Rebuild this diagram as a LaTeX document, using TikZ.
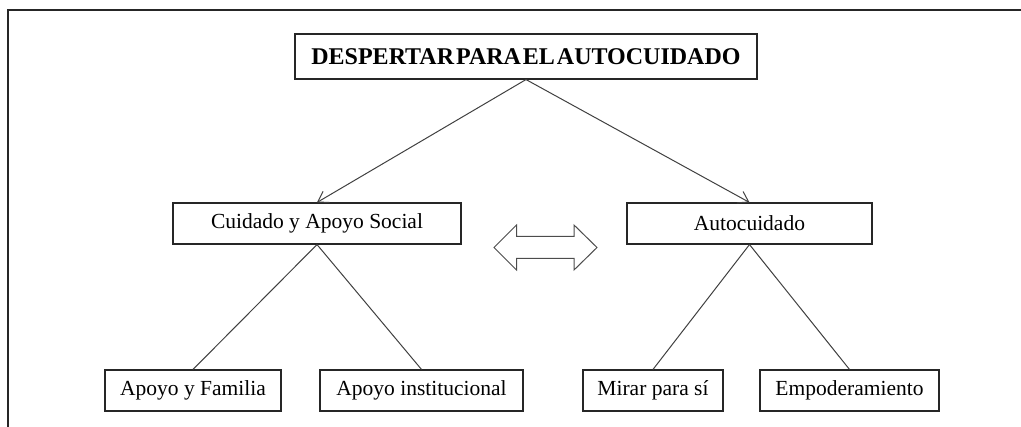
\documentclass[tikz,border=0pt]{standalone}
\usepackage{fontspec}
\setmainfont{Liberation Serif}
\usetikzlibrary{arrows.meta}
\begin{document}
\begin{tikzpicture}[x=1pt,y=-1pt,
  box/.style={draw=black!85, line width=1.1pt, inner sep=0pt, minimum height=41pt, font=\fontsize{21.5}{24}\selectfont},
  conn/.style={draw=black!75, line width=1pt},
  arr/.style={conn, -{Straight Barb[length=10pt,width=13pt,line width=1pt]}},
  dblarrow/.style={draw=black!70, line width=1pt, line join=miter}
]
\useasboundingbox (0,0) rectangle (1021,427);
\draw[black!85, line width=1.4pt] (8,427) |- (1021,10);
\node[box, minimum width=462pt, minimum height=45pt, font=\fontsize{24}{26}\selectfont\bfseries] (top) at (526,56.5) {DESPERTAR\hspace{2pt}PARA\hspace{2pt}EL\hspace{2pt}AUTOCUIDADO};
\node[box, minimum width=288pt] (cuid) at (317,223.5) {Cuidado y Apoyo Social};
\node[box, minimum width=245pt] (auto) at (749.5,223.5) {Autocuidado};
\node[box, minimum width=176pt] (fam) at (193,390.5) {Apoyo y Familia};
\node[box, minimum width=203pt] (inst) at (421.5,390.5) {Apoyo institucional};
\node[box, minimum width=140pt] (mir) at (653,390.5) {Mirar para sí};
\node[box, minimum width=179pt] (emp) at (849.5,390.5) {Empoderamiento};
\coordinate (dbl) at (545.5,247.5);
\draw[dblarrow] ([shift={(-51.5,0)}]dbl) -- ([shift={(-29,-22.5)}]dbl) -- ([shift={(-29,-11)}]dbl)
  -- ([shift={(28.5,-11)}]dbl) -- ([shift={(28.5,-22.5)}]dbl) -- ([shift={(51.5,0)}]dbl)
  -- ([shift={(28.5,22.5)}]dbl) -- ([shift={(28.5,11)}]dbl) -- ([shift={(-29,11)}]dbl)
  -- ([shift={(-29,22.5)}]dbl) -- cycle;
\draw[arr] (top.south) -- (cuid.north);
\draw[arr] (top.south) -- (auto.north);
\draw[conn] (cuid.south) -- (fam.north);
\draw[conn] (cuid.south) -- (inst.north);
\draw[conn] (auto.south) -- (mir.north);
\draw[conn] (auto.south) -- (emp.north);
\end{tikzpicture}
\end{document}
